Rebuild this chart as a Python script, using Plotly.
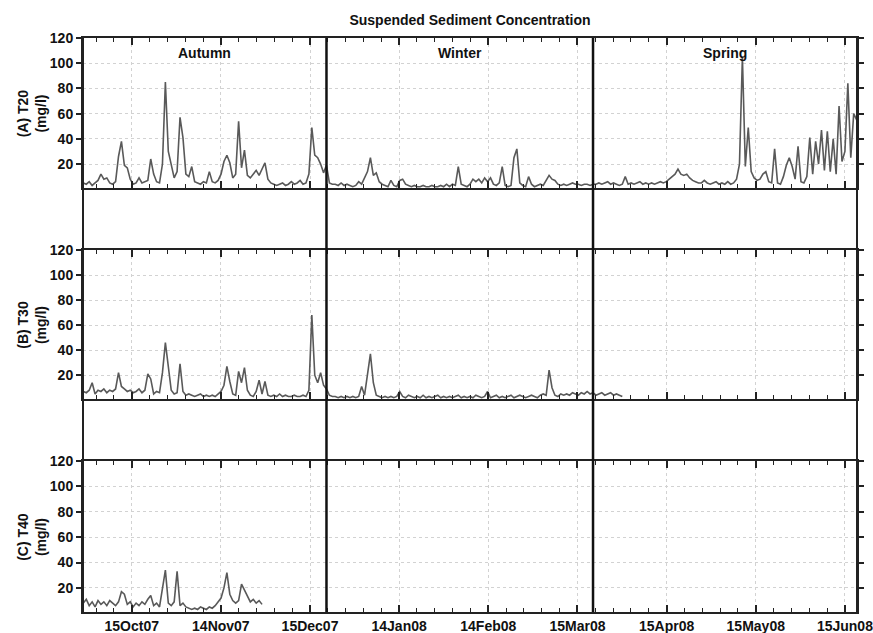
import pandas as pd
import plotly.graph_objects as go
from plotly.subplots import make_subplots

# ---------------- data (daily values, mg/l) ----------------
START_DATE = "2007-09-29"

T20 = [
    5, 4, 6, 3, 5, 7, 12, 8, 9, 5,
    4, 6, 26, 38, 19, 17, 8, 4, 5, 9,
    5, 6, 7, 24, 12, 6, 5, 20, 85, 30,
    19, 9, 14, 57, 41, 12, 10, 18, 6, 5,
    4, 6, 5, 14, 6, 5, 7, 12, 22, 27,
    21, 9, 12, 54, 17, 31, 11, 9, 12, 15,
    11, 16, 21, 8, 5, 4, 3, 4, 5, 3,
    4, 6, 4, 5, 7, 4, 5, 12, 49, 27,
    25, 20, 13, 19, 5, 4, 4, 3, 5, 3,
    4, 3, 2, 3, 6, 4, 9, 14, 25, 11,
    13, 6, 4, 3, 2, 7, 3, 2, 7, 8,
    4, 3, 2, 3, 2, 2, 3, 2, 2, 3,
    2, 2, 3, 2, 4, 2, 4, 3, 18, 4,
    3, 2, 4, 8, 6, 8, 5, 9, 6, 9,
    4, 3, 5, 18, 3, 2, 3, 25, 32, 5,
    3, 2, 10, 4, 2, 3, 4, 3, 7, 11,
    8, 7, 4, 3, 4, 3, 4, 5, 4, 4,
    3, 4, 4, 3, 4, 4, 5, 4, 5, 6,
    4, 5, 4, 3, 4, 10, 4, 5, 4, 5,
    6, 4, 5, 4, 5, 4, 5, 6, 5, 6,
    8, 10, 12, 16, 12, 11, 12, 9, 7, 6,
    5, 5, 7, 5, 4, 5, 6, 4, 5, 4,
    6, 4, 5, 8, 20, 105, 18, 49, 14, 9,
    7, 8, 12, 14, 6, 5, 32, 5, 4, 10,
    19, 25, 18, 8, 34, 6, 5, 10, 41, 12,
    38, 20, 47, 15, 46, 14, 40, 12, 66, 22,
    30, 84, 25, 60, 55,
]

T30 = [
    7, 6, 8, 14, 5, 8, 7, 9, 6, 8,
    7, 9, 22, 11, 9, 7, 8, 6, 7, 9,
    6, 8, 21, 17, 5, 7, 6, 22, 46, 27,
    8, 5, 6, 29, 7, 4, 5, 4, 3, 4,
    5, 3, 4, 3, 4, 3, 5, 7, 12, 27,
    15, 5, 4, 23, 14, 26, 8, 4, 3, 7,
    16, 5, 15, 4, 3, 4, 3, 5, 3, 4,
    3, 3, 4, 3, 3, 4, 3, 8, 68, 20,
    14, 22, 12, 9, 4, 3, 3, 2, 3, 2,
    3, 2, 3, 2, 3, 11, 4, 20, 37, 14,
    4, 3, 2, 3, 2, 3, 2, 3, 7, 3,
    2, 4, 3, 2, 3, 2, 4, 2, 3, 2,
    3, 4, 2, 3, 2, 3, 2, 3, 4, 2,
    3, 2, 3, 2, 4, 3, 2, 3, 7, 2,
    3, 4, 2, 3, 2, 3, 4, 2, 3, 4,
    3, 2, 3, 4, 3, 2, 4, 5, 4, 24,
    10, 4, 3, 5, 4, 5, 4, 6, 5, 4,
    6, 5, 7, 5, 6, 4, 5, 6, 4, 5,
    6, 4, 5, 4, 3,
]

T40 = [
    8, 11, 6, 9, 5, 10, 7, 9, 6, 10,
    8, 6, 9, 17, 15, 7, 9, 5, 8, 6,
    9, 7, 11, 14, 6, 8, 5, 20, 34, 8,
    6, 9, 33, 6, 8, 5, 4, 3, 4, 3,
    5, 4, 3, 5, 4, 6, 9, 12, 20, 32,
    15, 10, 8, 10, 23, 18, 14, 9, 11, 8,
    10, 7,
]

PANEL_LABELS = ["(A) T20<br>(mg/l)", "(B) T30<br>(mg/l)", "(C) T40<br>(mg/l)"]
SEASONS = ["Autumn", "Winter", "Spring"]
SEASON_EDGES = ["2007-09-28 21:00", "2007-12-21 00:00", "2008-03-21 00:00", "2008-06-19 03:00"]
X_TICKS = ["2007-10-15 12:00", "2007-11-14 22:30", "2007-12-15 09:00", "2008-01-14 19:30",
           "2008-02-14 06:00", "2008-03-15 16:30", "2008-04-15 03:00", "2008-05-15 13:30",
           "2008-06-15 00:00"]
X_TICK_LABELS = ["15Oct07", "14Nov07", "15Dec07", "14Jan08", "14Feb08", "15Mar08",
                 "15Apr08", "15May08", "15Jun08"]
Y_TICKS = [20, 40, 60, 80, 100, 120]
Y_RANGE = [1, 120]
TITLE = "Suspended Sediment Concentration"

# ---------------- figure ----------------
FONT = "Liberation Sans, Arial, sans-serif"
DOMAINS = [[0.7387, 1.0], [0.3711, 0.6307], [0.0, 0.2631]]
MINOR_DTICK = 30.4375 / 5 * 86400000  # ms
GRID = "#d2d2d2"

fig = make_subplots(rows=3, cols=1)
for i, vals in enumerate([T20, T30, T40]):
    dates = pd.date_range(START_DATE, periods=len(vals), freq="D")
    fig.add_trace(go.Scatter(x=dates, y=vals, mode="lines",
                             line=dict(color="#595959", width=1.6),
                             showlegend=False, hoverinfo="skip"),
                  row=i + 1, col=1)

for i in range(3):
    fig.update_xaxes(
        row=i + 1, col=1, type="date",
        range=[SEASON_EDGES[0], SEASON_EDGES[-1]],
        tickmode="array", tickvals=X_TICKS, ticktext=X_TICK_LABELS,
        showticklabels=(i == 2), ticks="inside", ticklen=7, tickwidth=1.5,
        tickcolor="#222", showline=True, linecolor="#222", linewidth=2,
        mirror="allticks", showgrid=True, gridcolor=GRID, griddash="dot",
        gridwidth=1, zeroline=False, automargin=False, ticklabeloverflow="allow",
        tickfont=dict(family=FONT, size=14, color="#111", weight="bold"),
        minor=dict(ticks="inside", ticklen=4, tickwidth=1.2, tickcolor="#222",
                   tick0=X_TICKS[0], dtick=MINOR_DTICK, showgrid=False),
    )
    fig.update_yaxes(
        row=i + 1, col=1, domain=DOMAINS[i], range=Y_RANGE,
        tickmode="array", tickvals=Y_TICKS, ticks="outside", ticklen=5,
        tickwidth=1.5, tickcolor="#222", showline=True, linecolor="#222",
        linewidth=2, mirror="ticks", showgrid=True, gridcolor=GRID,
        griddash="dot", gridwidth=1, zeroline=False, automargin=False,
        tickfont=dict(family=FONT, size=14, color="#111", weight="bold"),
    )
    mid = (DOMAINS[i][0] + DOMAINS[i][1]) / 2
    fig.add_annotation(text=PANEL_LABELS[i], xref="paper", yref="paper",
                       x=-0.0655, y=mid, textangle=-90, showarrow=False,
                       xanchor="center", yanchor="middle",
                       font=dict(family=FONT, size=14, color="#111", weight="bold"))

# season dividers spanning all panels
for edge in SEASON_EDGES[1:3]:
    fig.add_shape(type="line", xref="x", yref="paper", x0=edge, x1=edge, y0=0, y1=1,
                  line=dict(color="#111", width=2.5))
# outer left/right frame through the gaps
for px in (0, 1):
    fig.add_shape(type="line", xref="paper", yref="paper", x0=px, x1=px, y0=0, y1=1,
                  line=dict(color="#222", width=2))

# season labels
edges = pd.to_datetime(SEASON_EDGES)
for k, name in enumerate(SEASONS):
    midx = edges[k] + (edges[k + 1] - edges[k]) / 2
    fig.add_annotation(text=name, xref="x", yref="y", x=midx, y=108, showarrow=False,
                       font=dict(family=FONT, size=14, color="#111", weight="bold"))

fig.update_layout(
    width=873, height=633,
    margin=dict(l=83, r=16, t=38, b=21),
    paper_bgcolor="white", plot_bgcolor="white",
    title=dict(text=TITLE, x=0.5, xref="paper", y=1 - 20 / 633, yref="container",
               xanchor="center", yanchor="middle",
               font=dict(family=FONT, size=14, color="#111", weight="bold")),
    font=dict(family=FONT, color="#111"),
)

fig.write_html("out.html")
